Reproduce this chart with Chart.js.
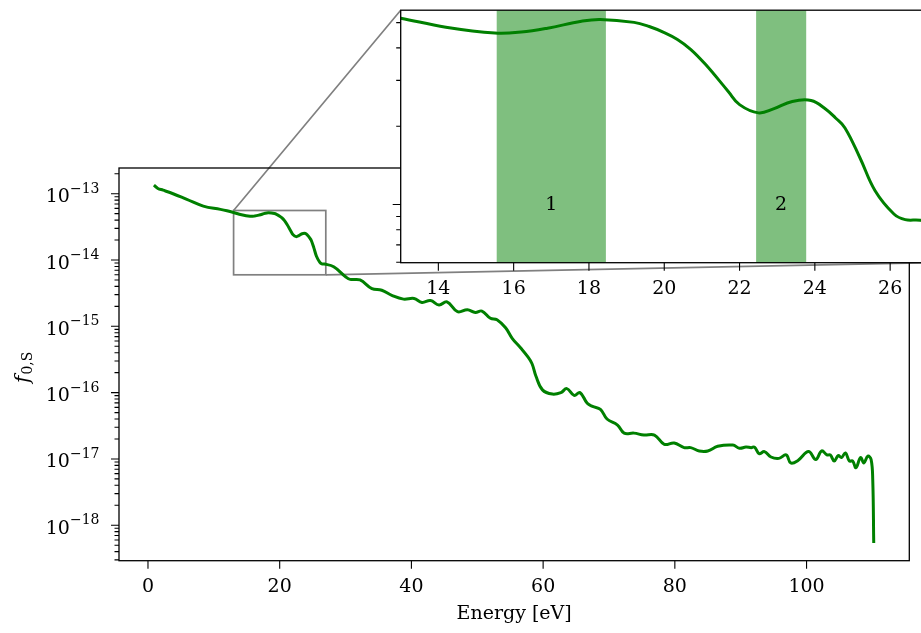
<!DOCTYPE html>
<html>
<head>
<meta charset="utf-8">
<script src="https://cdn.jsdelivr.net/npm/chart.js@4.4.0/dist/chart.umd.min.js"></script>
<style>
html, body { margin: 0; padding: 0; background: #fff; overflow: hidden; width: 921px; height: 633px; }
#main { position: absolute; left: 0; top: 0; }
#inset { position: absolute; left: 380px; top: 0; }
</style>
</head>
<body>
<canvas id="main" width="921" height="633"></canvas>
<canvas id="inset" width="560" height="300"></canvas>
<script>
// energy grid [eV] and f_0,S values
const energy = [0.9, 1.5, 2.3, 3.9, 5.9, 8.4, 11.0, 12.0, 13.0, 14.2, 15.5, 16.2, 16.9, 17.8, 18.3, 19.2,
  19.6, 20.0, 20.35, 20.7, 21.1, 21.7, 22.0, 22.5, 22.9, 23.4, 23.9, 24.3, 24.55, 24.8, 25.2, 25.6, 26.1, 26.4, 26.8,
  28.2, 30.0, 30.7, 32.2, 34.0, 35.5, 37.1, 38.8, 40.4, 41.6, 42.9, 44.2, 45.4, 47.0, 48.5, 49.7,
  50.7, 52.0, 53.0, 54.3, 55.3, 56.6, 57.6, 58.3, 58.9, 59.9, 61.4, 62.7, 63.6, 64.7, 65.6, 66.7,
  67.5, 68.7, 69.7, 71.3, 72.3, 73.8, 75.3, 76.9, 78.4, 79.9, 81.4, 82.4, 83.7, 85.0, 86.5, 88.8,
  89.8, 90.8, 91.6, 92.1, 92.8, 93.6, 94.6, 95.8, 96.9, 97.6, 98.7, 100.3, 101.4, 102.3, 103.1, 103.6,
  104.2, 104.8, 105.3, 105.9, 106.5, 107.0, 107.5, 108.2, 108.7, 109.3, 109.8, 110.05, 110.2];
const fValues = [1.35e-13, 1.20e-13, 1.13e-13, 9.9e-14, 8.2e-14, 6.5e-14, 5.8e-14, 5.52e-14, 5.2e-14, 4.8e-14, 4.56e-14, 4.6e-14, 4.76e-14, 5.06e-14, 5.14e-14, 5.01e-14,
  4.83e-14, 4.58e-14, 4.31e-14, 3.95e-14, 3.45e-14, 2.72e-14, 2.42e-14, 2.25e-14, 2.33e-14, 2.49e-14, 2.51e-14, 2.32e-14, 2.15e-14, 1.97e-14, 1.51e-14, 1.13e-14, 9.2e-15, 8.75e-15, 8.7e-15,
  7.9e-15, 5.6e-15, 5.1e-15, 5.0e-15, 3.7e-15, 3.5e-15, 2.9e-15, 2.57e-15, 2.63e-15, 2.29e-15, 2.45e-15, 2.09e-15, 2.34e-15, 1.66e-15, 1.78e-15, 1.62e-15,
  1.70e-15, 1.32e-15, 1.26e-15, 9.5e-16, 6.6e-16, 4.7e-16, 3.55e-16, 2.75e-16, 1.78e-16, 1.10e-16, 9.5e-17, 1.0e-16, 1.15e-16, 9.1e-17, 1.0e-16, 6.9e-17,
  6.2e-17, 5.6e-17, 4.0e-17, 3.24e-17, 2.45e-17, 2.45e-17, 2.29e-17, 2.29e-17, 1.66e-17, 1.74e-17, 1.48e-17, 1.48e-17, 1.32e-17, 1.32e-17, 1.55e-17, 1.62e-17,
  1.45e-17, 1.51e-17, 1.48e-17, 1.51e-17, 1.20e-17, 1.29e-17, 1.07e-17, 1.02e-17, 1.15e-17, 8.7e-18, 9.5e-18, 1.29e-17, 9.8e-18, 1.32e-17, 1.15e-17, 1.15e-17,
  9.3e-18, 1.12e-17, 1.05e-17, 1.23e-17, 9.3e-18, 9.3e-18, 7.4e-18, 1.05e-17, 8.7e-18, 1.10e-17, 9.8e-18, 4.8e-18, 5.4e-19];

const mainXTicks = [0, 20, 40, 60, 80, 100];
const mainXRange = [-4.4, 115.6];
const mainYRange = [2.92e-19, 2.44e-13];

const insetXTicks = [14, 16, 18, 20, 22, 24, 26];
const zoomX = [13, 27];
const zoomY = [5.98e-15, 5.58e-14];

// shaded windows in the inset
const bandStart = [15.55, 22.44];
const bandEnd = [18.45, 23.77];
const bandLabels = ['1', '2'];
const bandLabelY = 1e-14;

const FONT = 'DejaVu Serif';
const FS = 19;
const points = energy.map((e, i) => ({ x: e, y: fValues[i] }));

function isDecade(v) {
    const l = Math.log10(v);
    return Math.abs(l - Math.round(l)) < 1e-6;
}

function logTicks(min, max) {
    const out = [];
    for (let e = Math.floor(Math.log10(min)); e <= Math.ceil(Math.log10(max)); e++) {
        for (let m = 1; m < 10; m++) {
            const v = m * Math.pow(10, e);
            if (v >= min && v <= max) out.push({ value: v });
        }
    }
    return out;
}

function lineDataset() {
    return {
        data: points,
        borderColor: '#008000',
        borderWidth: 3,
        pointRadius: 0,
        fill: false,
        tension: 0.4
    };
}

function hiddenGrid() {
    return { display: true, drawOnChartArea: false, drawTicks: true, tickLength: 8, color: 'rgba(0,0,0,0)' };
}

// box around the axes plus the tick marks (minor ones shorter)
function drawFrameAndTicks(chart) {
    const { ctx, chartArea: a } = chart;
    const xs = chart.scales.x, ys = chart.scales.y;
    ctx.save();
    ctx.strokeStyle = '#000';
    ctx.lineWidth = 1.3;
    ctx.strokeRect(a.left, a.top, a.right - a.left, a.bottom - a.top);
    ctx.lineWidth = 1.1;
    ctx.beginPath();
    xs.ticks.forEach(t => {
        const px = xs.getPixelForValue(t.value);
        ctx.moveTo(px, a.bottom);
        ctx.lineTo(px, a.bottom + 8);
    });
    ys.ticks.forEach(t => {
        const py = ys.getPixelForValue(t.value);
        const len = isDecade(t.value) ? 8 : 4.5;
        ctx.moveTo(a.left, py);
        ctx.lineTo(a.left - len, py);
    });
    ctx.stroke();
    ctx.restore();
}

// ---------- inset ----------
const insetPlugin = {
    id: 'insetDecor',
    beforeDraw(chart) {
        const { ctx, chartArea: a } = chart;
        ctx.save();
        ctx.fillStyle = '#fff';
        ctx.fillRect(a.left, a.top, a.right - a.left, a.bottom - a.top);
        ctx.restore();
    },
    beforeDatasetsDraw(chart) {
        const { ctx, chartArea: a } = chart;
        const xs = chart.scales.x, ys = chart.scales.y;
        ctx.save();
        ctx.fillStyle = 'rgba(0,128,0,0.5)';
        bandStart.forEach((s, i) => {
            const x0 = xs.getPixelForValue(s), x1 = xs.getPixelForValue(bandEnd[i]);
            ctx.fillRect(x0, a.top, x1 - x0, a.bottom - a.top);
        });
        ctx.fillStyle = '#000';
        ctx.font = FS + 'px "' + FONT + '"';
        ctx.textAlign = 'center';
        ctx.textBaseline = 'middle';
        bandLabels.forEach((lab, i) => {
            ctx.fillText(lab, xs.getPixelForValue((bandStart[i] + bandEnd[i]) / 2), ys.getPixelForValue(bandLabelY));
        });
        ctx.restore();
    },
    afterDraw(chart) {
        drawFrameAndTicks(chart);
    }
};

const insetChart = new Chart(document.getElementById('inset'), {
    type: 'line',
    data: { datasets: [lineDataset()] },
    options: {
        responsive: false,
        animation: false,
        layout: { padding: { top: 8, right: 12.2, left: 0, bottom: 0 } },
        plugins: { legend: { display: false }, tooltip: { enabled: false } },
        scales: {
            x: {
                type: 'linear', min: zoomX[0], max: zoomX[1],
                afterBuildTicks: s => { s.ticks = insetXTicks.map(v => ({ value: v })); },
                afterFit: s => { s.height = 37.3; },
                grid: hiddenGrid(), border: { display: false },
                ticks: { font: { family: FONT, size: FS }, color: '#000', padding: 7, autoSkip: false, maxRotation: 0 }
            },
            y: {
                type: 'logarithmic', min: zoomY[0], max: zoomY[1],
                afterBuildTicks: s => { s.ticks = logTicks(zoomY[0], zoomY[1]); },
                afterFit: s => { s.width = 20.7; },
                grid: hiddenGrid(), border: { display: false },
                ticks: { callback: () => '', autoSkip: false }
            }
        }
    },
    plugins: [insetPlugin]
});

// ---------- main ----------
const mainPlugin = {
    id: 'mainDecor',
    beforeDatasetsDraw(chart) {
        // zoom rectangle and connector lines to the inset
        const { ctx } = chart;
        const xs = chart.scales.x, ys = chart.scales.y;
        const x0 = xs.getPixelForValue(zoomX[0]), x1 = xs.getPixelForValue(zoomX[1]);
        const y0 = ys.getPixelForValue(zoomY[1]), y1 = ys.getPixelForValue(zoomY[0]);
        const ia = insetChart.chartArea;
        const offX = 380, offY = 0;
        ctx.save();
        ctx.strokeStyle = '#808080';
        ctx.lineWidth = 1.7;
        ctx.strokeRect(x0, y0, x1 - x0, y1 - y0);
        ctx.beginPath();
        ctx.moveTo(x0, y0);
        ctx.lineTo(ia.left + offX, ia.top + offY);
        ctx.moveTo(x1, y1);
        ctx.lineTo(ia.right + offX, ia.bottom + offY);
        ctx.stroke();
        ctx.restore();
    },
    afterDraw(chart) {
        drawFrameAndTicks(chart);
        const { ctx, chartArea: a } = chart;
        const ys = chart.scales.y;
        ctx.save();
        ctx.fillStyle = '#000';
        ctx.textBaseline = 'alphabetic';
        ctx.textAlign = 'left';
        const right = a.left - 19.5;
        ys.ticks.forEach(t => {
            if (!isDecade(t.value)) return;
            const py = ys.getPixelForValue(t.value);
            const sup = '\u2212' + String(-Math.round(Math.log10(t.value)));
            ctx.font = '14px "' + FONT + '"';
            const sw = ctx.measureText(sup).width;
            ctx.fillText(sup, right - sw, py - 1);
            ctx.font = FS + 'px "' + FONT + '"';
            const bw = ctx.measureText('10').width;
            ctx.fillText('10', right - sw - bw, py + 8.5);
        });
        // y-axis title f_{0,S}
        ctx.translate(29, (a.top + a.bottom) / 2 + 3);
        ctx.rotate(-Math.PI / 2);
        ctx.font = 'italic 20px "' + FONT + '"';
        const fw = ctx.measureText('f').width;
        ctx.font = '14px "' + FONT + '"';
        const subw = ctx.measureText('0,S').width;
        const start = -(fw + subw + 1) / 2;
        ctx.font = 'italic 20px "' + FONT + '"';
        ctx.fillText('f', start, 0);
        ctx.font = '14px "' + FONT + '"';
        ctx.fillText('0,S', start + fw + 1, 3);
        ctx.restore();
    }
};

new Chart(document.getElementById('main'), {
    type: 'line',
    data: { datasets: [lineDataset()] },
    options: {
        responsive: false,
        animation: false,
        layout: { padding: { top: 168, right: 11.7, left: 0, bottom: 0 } },
        plugins: { legend: { display: false }, tooltip: { enabled: false } },
        scales: {
            x: {
                type: 'linear', min: mainXRange[0], max: mainXRange[1],
                afterBuildTicks: s => { s.ticks = mainXTicks.map(v => ({ value: v })); },
                afterFit: s => { s.height = 72.3; },
                grid: hiddenGrid(), border: { display: false },
                ticks: { font: { family: FONT, size: FS }, color: '#000', padding: 7, autoSkip: false, maxRotation: 0 },
                title: { display: true, text: 'Energy [eV]', color: '#000', font: { family: FONT, size: FS }, padding: { top: 0, bottom: 8 } }
            },
            y: {
                type: 'logarithmic', min: mainYRange[0], max: mainYRange[1],
                afterBuildTicks: s => { s.ticks = logTicks(mainYRange[0], mainYRange[1]); },
                afterFit: s => { s.width = 119; },
                grid: hiddenGrid(), border: { display: false },
                ticks: { callback: () => '', autoSkip: false }
            }
        }
    },
    plugins: [mainPlugin]
});
</script>
</body>
</html>
